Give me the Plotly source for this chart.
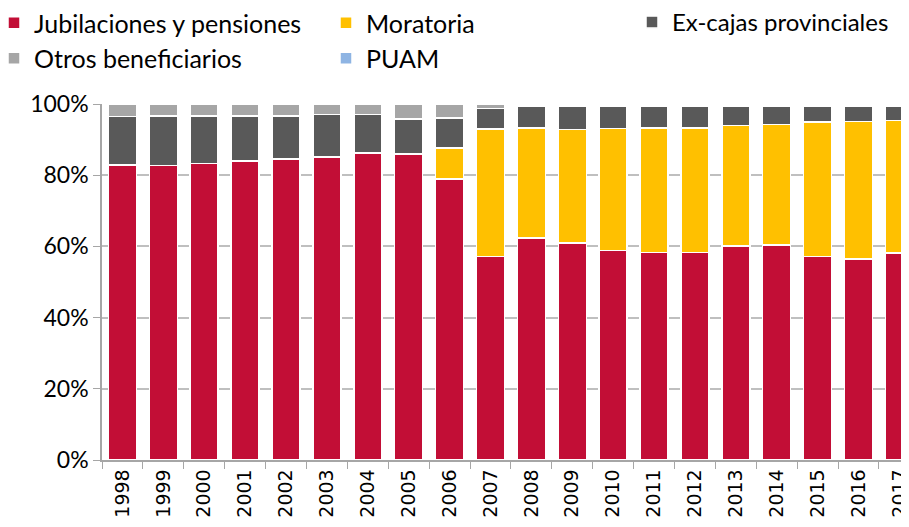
import plotly.graph_objects as go

years = [str(y) for y in range(1998, 2018)]

jubilaciones = [82.8, 82.7, 83.3, 84.0, 84.6, 85.1, 86.3, 85.9, 78.9, 57.1,
                62.4, 61.0, 58.9, 58.3, 58.3, 60.1, 60.4, 57.2, 56.4, 58.1]
moratoria = [0, 0, 0, 0, 0, 0, 0, 0, 8.7, 35.9,
             30.8, 31.8, 34.2, 35.0, 35.0, 33.9, 33.8, 37.7, 38.7, 37.2]
ex_cajas = [13.7, 13.9, 13.4, 12.7, 12.1, 11.9, 10.8, 9.9, 8.5, 5.7,
            6.2, 6.7, 6.4, 6.2, 6.2, 5.5, 5.3, 4.6, 4.4, 4.0]
otros = [3.5, 3.4, 3.3, 3.3, 3.3, 3.0, 2.9, 4.2, 3.9, 1.3,
         0.6, 0.5, 0.5, 0.5, 0.5, 0.5, 0.5, 0.5, 0.5, 0.4]
puam = [0, 0, 0, 0, 0, 0, 0, 0, 0, 0,
        0, 0, 0, 0, 0, 0, 0, 0, 0, 0.3]

series = [
    ("Jubilaciones y pensiones", jubilaciones, "#C20E36", "legend"),
    ("Moratoria", moratoria, "#FFC000", "legend2"),
    ("Ex-cajas provinciales", ex_cajas, "#595959", "legend3"),
    ("Otros beneficiarios", otros, "#A6A6A6", "legend"),
    ("PUAM", puam, "#8EB4E3", "legend2"),
]

FONT = "Lato, sans-serif"
ML, MT, PW, PH = 94, 96, 815, 356

fig = go.Figure()
for name, vals, color, lg in series:
    fig.add_trace(go.Bar(
        x=years, y=vals, name=name, legend=lg,
        marker=dict(color=color, line=dict(color="white", width=1.5)),
    ))

def leg(xpx, ypx, size=25):
    return dict(
        orientation="v",
        x=(xpx - ML) / PW, xanchor="left", xref="paper",
        y=1 + (MT - ypx) / PH, yanchor="top", yref="paper",
        font=dict(size=size, family=FONT, color="black"),
        itemwidth=30, bgcolor="rgba(0,0,0,0)",
        traceorder="normal", tracegroupgap=0,
    )

fig.update_layout(
    barmode="stack",
    bargap=0.315,
    width=909, height=527,
    margin=dict(l=ML, r=909 - ML - PW, t=MT, b=527 - MT - PH, autoexpand=False),
    plot_bgcolor="white", paper_bgcolor="white",
    font=dict(family=FONT, size=23, color="black"),
    legend=leg(-14, -8),
    legend2=leg(318, -8),
    legend3=leg(624, -8, 24),
    yaxis=dict(
        range=[0, 100], dtick=20, ticksuffix="%",
        showgrid=True, gridcolor="#BFBFBF", gridwidth=1.5,
        showline=True, linecolor="#A6A6A6", linewidth=1.5,
        ticks="outside", ticklen=7, tickcolor="#A6A6A6",
        tickfont=dict(size=23, family=FONT),
        zeroline=False,
    ),
    xaxis=dict(
        range=[-0.5, 19.43],
        tickangle=-90,
        showline=True, linecolor="#A6A6A6", linewidth=1.5,
        ticks="outside", ticklen=7, tickcolor="#A6A6A6",
        tickson="boundaries",
        tickfont=dict(size=19, family="DejaVu Sans"),
    ),
)

fig.write_html("out.html")
